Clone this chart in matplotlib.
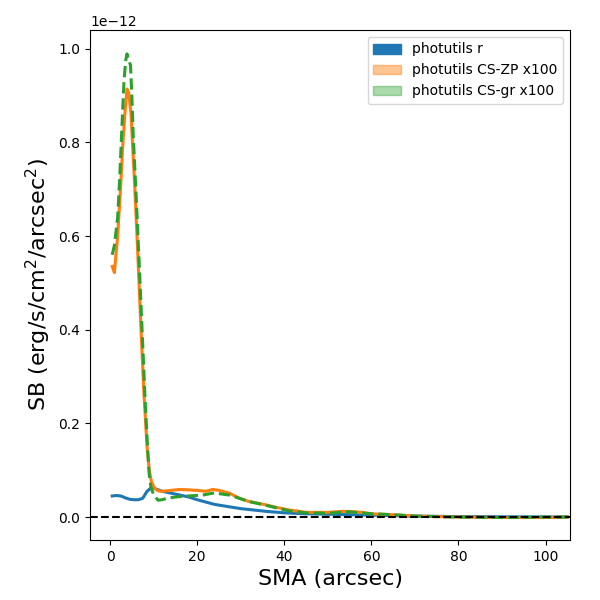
import matplotlib
matplotlib.use('Agg')
import matplotlib.pyplot as plt
from matplotlib.patches import Patch

# surface brightness profiles (erg/s/cm^2/arcsec^2)
sma_r = [0.5, 1.5, 2.5, 3.5, 4.5, 5.5, 6.5, 7.5, 8.5, 9.5, 10.5, 12, 14, 16, 18,
         20, 22, 24, 26, 28, 30, 33, 36, 40, 45, 50, 55, 60, 65, 70, 80, 90, 100, 105]
sb_r = [0.045, 0.046, 0.045, 0.041, 0.038, 0.037, 0.037, 0.040, 0.055, 0.063, 0.060,
        0.055, 0.051, 0.047, 0.043, 0.037, 0.032, 0.027, 0.024, 0.021, 0.018, 0.015,
        0.012, 0.009, 0.007, 0.006, 0.005, 0.004, 0.003, 0.002, 0.001, 0.0005, 0.0002, 0.0001]

sma_zp = [0.5, 1.0, 1.75, 2.4, 2.9, 3.4, 3.9, 4.3, 4.8, 5.6, 6.3, 7.1, 7.8, 8.5, 9.0,
          9.5, 10.2, 11, 12, 14, 16, 18, 20, 22, 23.6, 25, 27.4, 29.7, 32, 35.8, 38,
          41.2, 45, 50, 53, 55, 58, 60, 65, 70, 75, 80, 90, 100, 105]
sb_zp = [0.535, 0.522, 0.60, 0.70, 0.79, 0.86, 0.914, 0.905, 0.862, 0.72, 0.578, 0.403,
         0.26, 0.15, 0.10, 0.075, 0.062, 0.056, 0.055, 0.057, 0.059, 0.058, 0.057, 0.055,
         0.059, 0.057, 0.051, 0.040, 0.033, 0.026, 0.021, 0.015, 0.010, 0.010, 0.012,
         0.012, 0.010, 0.007, 0.005, 0.002, 0.001, 0.0, -0.001, -0.001, 0.0]

sma_gr = [0.5, 1.0, 1.75, 2.2, 2.7, 3.2, 3.6, 3.9, 4.3, 4.7, 5.0, 5.3, 6.0, 6.7, 7.4,
          8.0, 8.6, 9.0, 9.4, 10.0, 11, 12, 13, 15.2, 18, 21.3, 23.6, 25, 27.4, 29.7,
          32, 35.8, 38, 41.2, 45, 50, 53, 55, 60, 65, 70, 80, 90, 100, 105]
sb_gr = [0.56, 0.58, 0.64, 0.72, 0.827, 0.93, 0.975, 0.989, 0.975, 0.965, 0.90, 0.82,
         0.684, 0.54, 0.39, 0.26, 0.15, 0.09, 0.063, 0.048, 0.036, 0.037, 0.040, 0.043,
         0.045, 0.047, 0.051, 0.050, 0.047, 0.040, 0.033, 0.025, 0.020, 0.013, 0.009,
         0.008, 0.010, 0.011, 0.007, 0.005, 0.002, 0.0, -0.001, 0.0, 0.0]

scale = 1e-12

fig = plt.figure(figsize=(6, 6), dpi=100)
ax = fig.add_axes([0.15, 0.10, 0.80, 0.85])

ax.plot(sma_r, [v * scale for v in sb_r], color='C0', lw=2.2)
ax.plot(sma_zp, [v * scale for v in sb_zp], color='C1', lw=2.2)
ax.plot(sma_gr, [v * scale for v in sb_gr], color='C2', lw=2.2, ls='--')
ax.axhline(0, color='k', ls='--', lw=1.5)

ax.set_xlim(-4.6, 105.6)
ax.set_ylim(-0.049e-12, 1.04e-12)
ax.set_xlabel('SMA (arcsec)', fontsize=16)
ax.set_ylabel('SB (erg/s/cm$^2$/arcsec$^2$)', fontsize=16)

handles = [Patch(color='C0', alpha=1.0, label='photutils r'),
           Patch(color='C1', alpha=0.45, label='photutils CS-ZP x100'),
           Patch(color='C2', alpha=0.4, label='photutils CS-gr x100')]
ax.legend(handles=handles, loc='upper right')

fig.savefig('out.png', dpi=100)
